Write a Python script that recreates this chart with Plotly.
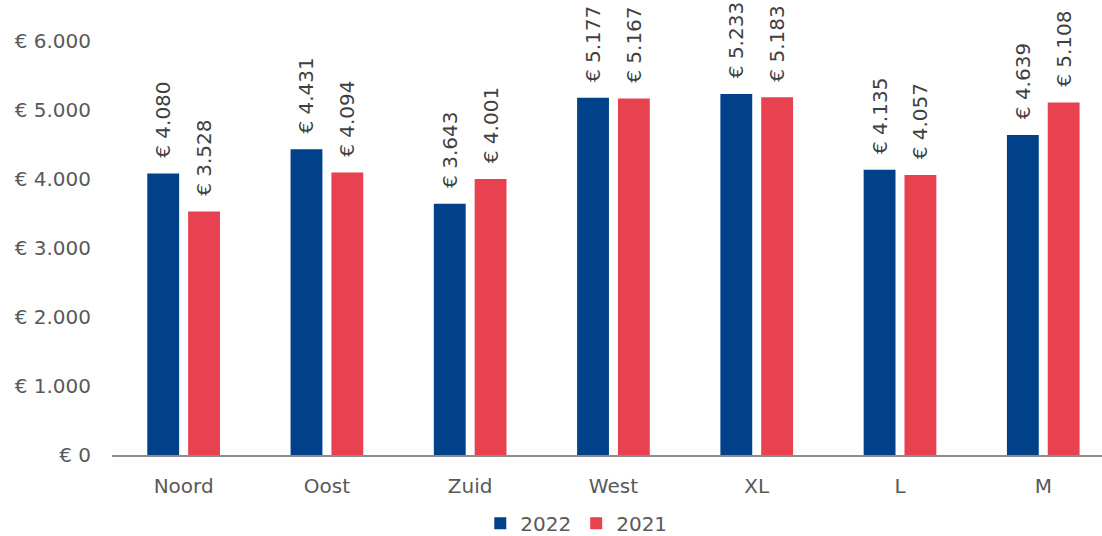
import plotly.graph_objects as go

categories = ["Noord", "Oost", "Zuid", "West", "XL", "L", "M"]
values_2022 = [4080, 4431, 3643, 5177, 5233, 4135, 4639]
values_2021 = [3528, 4094, 4001, 5167, 5183, 4057, 5108]
y_ticks = [0, 1000, 2000, 3000, 4000, 5000, 6000]

def fmt(v):
    return "€ " + f"{v:,}".replace(",", ".")

FONT = "DejaVu Sans"
fig = go.Figure()
for name, vals, col in [("2022", values_2022, "#00418A"), ("2021", values_2021, "#E8414F")]:
    fig.add_trace(go.Bar(
        name=name, x=categories, y=vals,
        marker=dict(color=col, line=dict(width=0)),
        text=["\u00a0\u00a0" + fmt(v) for v in vals], textposition="outside", textangle=-90,
        constraintext="none",
        textfont=dict(family=FONT, size=20, color="#404040"), cliponaxis=False,
    ))

fig.update_layout(
    width=1102, height=536,
    margin=dict(l=112, r=0, t=41, b=81, autoexpand=False),
    paper_bgcolor="white", plot_bgcolor="white",
    barmode="group", bargap=0.43, bargroupgap=0.22,
    font=dict(family=FONT, size=20, color="#595959"),
    showlegend=True,
    legend=dict(orientation="h", x=0.372, y=-0.165, xanchor="left", yanchor="middle",
                font=dict(family=FONT, size=20, color="#595959"), itemwidth=30,
                traceorder="normal"),
)
fig.update_xaxes(
    range=[-0.5, 6.41], showline=True, linecolor="#8C8C8C", linewidth=2,
    showgrid=False, ticks="", ticklabelstandoff=12,
    tickfont=dict(family=FONT, size=20, color="#595959"),
)
fig.update_yaxes(
    range=[0, 6000], tickvals=y_ticks, ticktext=[fmt(v) for v in y_ticks],
    showgrid=False, zeroline=False, showline=False, ticks="",
    ticklabelstandoff=20, tickfont=dict(family=FONT, size=20, color="#595959"),
)
fig.write_html("out.html")
